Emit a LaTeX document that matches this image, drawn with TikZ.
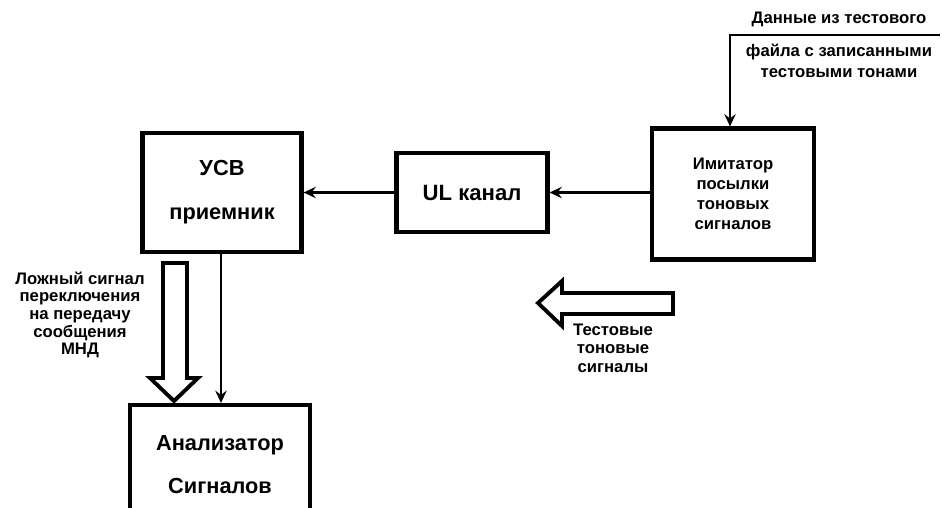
\documentclass[tikz,border=0pt]{standalone}
\usepackage{fontspec}
\setmainfont{Liberation Sans}
\usetikzlibrary{arrows.meta,positioning}

\begin{document}
\begin{tikzpicture}[x=0.02cm, y=-0.02cm,
    blok/.style={draw, line width=2.4pt, align=center, inner sep=0pt, font=\bfseries},
    con/.style={line width=1.4pt, -{Stealth[length=7pt, width=6.5pt, inset=2.5pt]}},
    hollow/.style={line width=2.2pt, line join=miter},
    note/.style={align=center, font=\bfseries\fontsize{9.5}{10}\selectfont, inner sep=0pt}]
    \useasboundingbox (0,0) rectangle (942,507);

    \node[blok, minimum width=3.18cm, minimum height=2.38cm,
          font=\bfseries\fontsize{12.4}{25}\selectfont] (usv) at (222,192.5) {УСВ\\приемник};
    \node[blok, minimum width=3.02cm, minimum height=1.58cm,
          font=\bfseries\fontsize{12.6}{14}\selectfont] (ul) at (472,192.5) {UL канал};
    \node[blok, minimum width=3.24cm, minimum height=2.62cm,
          font=\bfseries\fontsize{9.5}{11.5}\selectfont] (imit) at (733,194) {Имитатор\\посылки\\тоновых\\сигналов};
    \node[blok, minimum width=3.6cm, minimum height=2.4cm,
          font=\bfseries\fontsize{12.4}{24.5}\selectfont] (anal) at (220,465) {Анализатор\\Сигналов};

    \draw[con] (ul.west) -- (usv.east);
    \draw[con] (imit.west |- ul) -- (ul.east);
    \draw[con] (usv.south -| 221,0) -- (anal.north -| 221,0);

    \coordinate (vh) at (940,35);
    \draw[con] (vh) -- (730,35) -- (imit.north -| 730,0);
    \node[note] (dan) at (839,19) {Данные из тестового};
    \node[note, font=\bfseries\fontsize{9.5}{12}\selectfont] (fajl) at (839,61) {файла с записанными\\тестовыми тонами};

    \draw[hollow] (163,263) -- (187,263) -- (187,378) -- (198,378) -- (174,401)
        -- (150,378) -- (163,378) -- cycle;
    \node[note] (lozh) at (80,315) {Ложный сигнал\\переключения\\на передачу\\сообщения\\МНД};

    \draw[hollow] (673,293) -- (562,293) -- (562,281) -- (538,303) -- (562,326)
        -- (562,314) -- (673,314) -- cycle;
    \node[note, font=\bfseries\fontsize{9.5}{10.5}\selectfont] (test) at (613,348) {Тестовые\\тоновые\\сигналы};
\end{tikzpicture}
\end{document}
